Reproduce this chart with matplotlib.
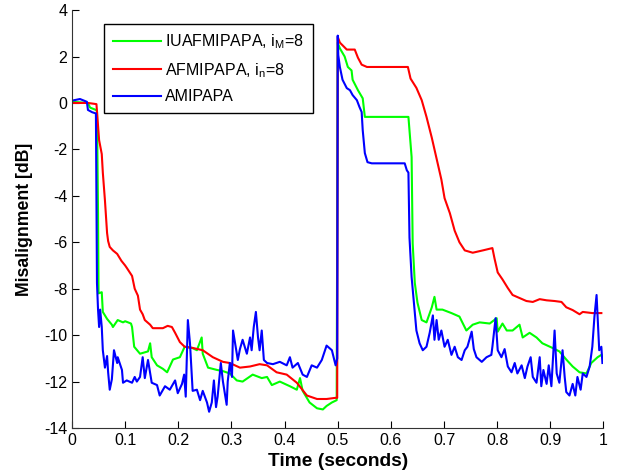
import numpy as np
from matplotlib import pyplot as plt

### data (time in s, misalignment in dB)
t_red = [0, 0.03, 0.046, 0.051, 0.056, 0.058, 0.062, 0.066, 0.068, 0.071, 0.077, 0.085, 0.093,
         0.100, 0.103, 0.113, 0.118, 0.124, 0.128, 0.133, 0.137, 0.147, 0.152, 0.171, 0.180,
         0.188, 0.194, 0.203, 0.212, 0.227, 0.246, 0.265, 0.284, 0.297, 0.316, 0.335, 0.353,
         0.367, 0.385, 0.404, 0.423, 0.442, 0.461, 0.479, 0.496, 0.499, 0.500, 0.504, 0.517,
         0.532, 0.538, 0.545, 0.555, 0.632, 0.637, 0.648, 0.658, 0.667, 0.677, 0.686, 0.695,
         0.701, 0.711, 0.720, 0.729, 0.739, 0.754, 0.773, 0.791, 0.795, 0.801, 0.810, 0.820,
         0.829, 0.842, 0.855, 0.867, 0.880, 0.893, 0.908, 0.921, 0.930, 0.942, 0.955, 0.961,
         0.979, 0.996]
y_red = [0.0, 0.0, -0.05, -1.6, -2.2, -3.0, -4.2, -5.6, -5.95, -6.2, -6.35, -6.5, -6.8,
         -7.0, -7.1, -7.45, -8.0, -8.3, -8.9, -9.1, -9.35, -9.55, -9.7, -9.7, -9.6,
         -9.65, -9.9, -10.3, -10.5, -10.55, -10.65, -10.95, -11.15, -11.2, -11.4, -11.35, -11.25,
         -11.3, -11.6, -11.7, -12.05, -12.6, -12.75, -12.75, -12.7, -12.7, 2.85, 2.6, 2.3,
         2.3, 1.95, 1.65, 1.55, 1.55, 1.05, 0.65, 0.12, -0.6, -1.5, -2.4, -3.3,
         -4.1, -4.75, -5.5, -6.0, -6.35, -6.45, -6.35, -6.25, -6.7, -7.3, -7.6, -7.97,
         -8.27, -8.4, -8.53, -8.57, -8.45, -8.5, -8.53, -8.57, -8.8, -8.92, -9.1, -9.0,
         -9.05, -9.05]

t_green = [0, 0.030, 0.034, 0.045, 0.047, 0.049, 0.050, 0.056, 0.058, 0.066, 0.075, 0.077,
           0.086, 0.096, 0.100, 0.111, 0.113, 0.117, 0.128, 0.143, 0.147, 0.150, 0.160, 0.171,
           0.179, 0.190, 0.203, 0.212, 0.226, 0.235, 0.244, 0.246, 0.256, 0.273, 0.284, 0.297,
           0.310, 0.321, 0.340, 0.357, 0.367, 0.376, 0.391, 0.410, 0.423, 0.429, 0.434, 0.447,
           0.461, 0.472, 0.479, 0.489, 0.498, 0.500, 0.504, 0.513, 0.519, 0.526, 0.528, 0.538,
           0.547, 0.551, 0.633, 0.639, 0.641, 0.645, 0.650, 0.658, 0.667, 0.677, 0.682, 0.686,
           0.697, 0.714, 0.729, 0.742, 0.754, 0.767, 0.786, 0.799, 0.801, 0.810, 0.818, 0.829,
           0.842, 0.848, 0.861, 0.874, 0.885, 0.904, 0.917, 0.930, 0.942, 0.955, 0.968, 0.977,
           0.989, 0.996]
y_green = [0.05, 0.0, -0.2, -0.3, -0.35, -4.75, -8.2, -8.15, -9.0, -9.3, -9.55, -9.65,
           -9.35, -9.45, -9.4, -9.5, -9.65, -10.5, -10.8, -10.7, -10.35, -10.95, -11.3, -11.45,
           -11.6, -11.05, -10.95, -10.5, -10.55, -10.65, -10.1, -10.8, -11.4, -11.5, -11.55, -11.65,
           -11.95, -12.0, -11.7, -11.85, -11.8, -12.15, -12.0, -12.2, -12.35, -11.85, -12.4, -12.9,
           -13.15, -13.2, -13.05, -12.9, -12.8, 2.6, 2.35, 2.0, 1.55, 1.4, 1.0, 0.55,
           0.2, -0.6, -0.6, -2.33, -6.05, -7.75, -8.6, -9.35, -9.45, -8.8, -8.35, -8.9,
           -8.9, -9.05, -9.2, -9.8, -9.55, -9.45, -9.5, -9.27, -9.85, -9.5, -9.8, -9.8,
           -9.55, -10.1, -9.9, -10.1, -10.35, -10.55, -10.7, -11.05, -11.35, -11.6, -11.65, -11.2,
           -10.95, -10.85]

t_blue = [0.0, 0.015, 0.028, 0.030, 0.038, 0.045, 0.047, 0.049, 0.051, 0.053, 0.056, 0.058,
          0.062, 0.066, 0.068, 0.071, 0.075, 0.079, 0.085, 0.086, 0.094, 0.096, 0.103, 0.113,
          0.118, 0.122, 0.128, 0.133, 0.137, 0.143, 0.150, 0.160, 0.165, 0.175, 0.184, 0.194,
          0.199, 0.207, 0.211, 0.214, 0.218, 0.222, 0.226, 0.227, 0.235, 0.241, 0.246, 0.254,
          0.258, 0.263, 0.267, 0.271, 0.274, 0.280, 0.284, 0.291, 0.293, 0.297, 0.301, 0.303,
          0.308, 0.312, 0.316, 0.321, 0.329, 0.335, 0.338, 0.342, 0.346, 0.350, 0.353, 0.357,
          0.361, 0.367, 0.378, 0.391, 0.404, 0.410, 0.415, 0.425, 0.434, 0.442, 0.451, 0.461,
          0.470, 0.479, 0.489, 0.496, 0.499, 0.500, 0.501, 0.504, 0.509, 0.517, 0.523, 0.528,
          0.536, 0.541, 0.545, 0.547, 0.551, 0.556, 0.564, 0.611, 0.626, 0.630, 0.633, 0.635,
          0.639, 0.643, 0.645, 0.648, 0.654, 0.660, 0.667, 0.673, 0.679, 0.682, 0.686, 0.690,
          0.695, 0.701, 0.707, 0.714, 0.720, 0.726, 0.733, 0.739, 0.744, 0.752, 0.756, 0.761,
          0.771, 0.780, 0.789, 0.791, 0.797, 0.801, 0.808, 0.814, 0.820, 0.827, 0.833, 0.838,
          0.846, 0.852, 0.857, 0.863, 0.867, 0.874, 0.880, 0.883, 0.887, 0.893, 0.897, 0.902,
          0.908, 0.912, 0.917, 0.923, 0.927, 0.930, 0.936, 0.942, 0.947, 0.951, 0.957, 0.961,
          0.968, 0.974, 0.979, 0.983, 0.987, 0.989, 0.992, 0.996, 0.998]
y_blue = [0.1, 0.17, 0.05, -0.3, -0.4, -0.45, -7.75, -8.9, -9.65, -8.9, -9.65, -10.65,
          -11.4, -10.9, -11.6, -12.35, -11.9, -10.65, -11.2, -10.95, -11.5, -12.05, -11.95, -12.05,
          -11.8, -12.0, -11.8, -10.95, -11.85, -11.07, -12.05, -12.15, -12.6, -12.2, -12.35, -11.95,
          -12.5, -12.1, -11.7, -12.65, -9.35, -10.35, -12.0, -12.4, -12.35, -12.8, -12.4, -12.9,
          -13.3, -12.9, -11.95, -13.1, -12.65, -11.2, -12.0, -13.0, -12.0, -11.2, -11.8, -9.8,
          -10.5, -11.07, -10.6, -10.2, -10.8, -10.1, -10.65, -9.65, -9.0, -10.1, -10.65, -9.8,
          -11.07, -11.2, -11.25, -11.15, -11.3, -10.95, -11.4, -11.2, -11.7, -11.8, -11.3, -11.4,
          -11.07, -10.45, -10.65, -11.3, -11.0, 2.9, 2.06, 1.55, 1.0, 0.64, 0.55, 0.34,
          0.12, -0.18, -0.39, -1.17, -2.16, -2.55, -2.6, -2.6, -2.6, -2.9, -3.0, -5.8,
          -7.5, -8.5, -9.05, -9.8, -10.35, -10.65, -10.5, -9.9, -9.15, -10.2, -9.35, -10.2,
          -9.8, -10.5, -10.2, -10.85, -10.5, -10.95, -11.07, -10.65, -10.5, -9.85, -10.6, -10.95,
          -11.15, -10.95, -10.85, -10.5, -9.27, -10.65, -10.95, -10.6, -11.35, -11.6, -11.2, -11.65,
          -11.3, -11.85, -11.35, -10.95, -11.8, -12.05, -10.95, -12.2, -11.5, -12.1, -11.3, -12.2,
          -9.8, -11.65, -12.05, -10.65, -11.8, -12.45, -12.6, -12.1, -12.6, -11.8, -12.35, -11.65,
          -11.8, -11.35, -10.5, -9.2, -8.27, -9.2, -10.65, -10.5, -11.2]

x_ticks = np.arange(0, 1.01, 0.1)
y_ticks = np.arange(-14, 4.1, 2)

plt.rcParams['font.family'] = ['Liberation Sans', 'DejaVu Sans']
plt.rcParams['mathtext.fontset'] = 'custom'
plt.rcParams['mathtext.rm'] = 'Liberation Sans'

fig = plt.figure(figsize=(6.18, 4.76), dpi=100)
ax = fig.add_axes([0.1165, 0.1008, 0.860, 0.878])

ax.plot(t_green, y_green, color=(0, 1, 0), lw=1.5, label='IUAFMIPAPA, i$_\\mathrm{M}$=8')
ax.plot(t_red, y_red, color=(1, 0, 0), lw=1.5, label='AFMIPAPA, i$_\\mathrm{n}$=8')
ax.plot(t_blue, y_blue, color=(0, 0, 1), lw=1.5, label='AMIPAPA')

ax.set_xlim(0, 1)
ax.set_ylim(-14, 4)
ax.set_xticks(x_ticks)
ax.set_xticklabels(['0', '0.1', '0.2', '0.3', '0.4', '0.5', '0.6', '0.7', '0.8', '0.9', '1'])
ax.set_yticks(y_ticks)
ax.set_yticklabels([str(int(v)) for v in y_ticks])
ax.tick_params(direction='in', length=5, labelsize=11.5, colors='black')
ax.spines['top'].set_visible(False)
ax.spines['right'].set_visible(False)
ax.spines['left'].set_color('#333333')
ax.spines['bottom'].set_color('#333333')

ax.set_xlabel('Time (seconds)', fontsize=13.8, fontweight='bold', labelpad=4)
ax.set_ylabel('Misalignment [dB]', fontsize=12.7, fontweight='bold', labelpad=8)

leg = ax.legend(loc='upper left', bbox_to_anchor=(0.06, 0.967), borderaxespad=0,
                fontsize=11.5, handlelength=3.0, handletextpad=0.3, borderpad=0.55,
                labelspacing=0.6, fancybox=False, edgecolor='black', framealpha=1)
leg.get_frame().set_linewidth(1.0)

plt.savefig('out.png', dpi=100)
